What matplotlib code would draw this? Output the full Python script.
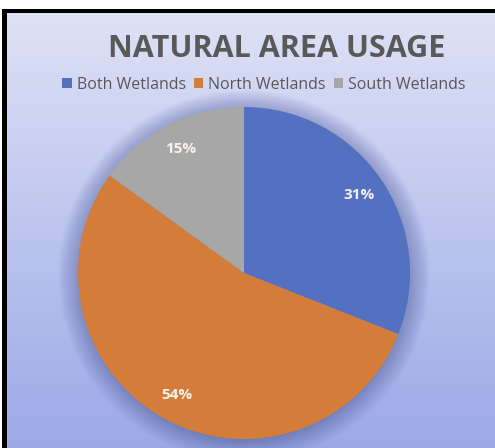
import numpy as np
import matplotlib.pyplot as plt
from matplotlib.patches import Rectangle, Circle, Patch

# data
labels = ['Both Wetlands', 'North Wetlands', 'South Wetlands']
shares = [31, 54, 15]
colors = ['#5470C0', '#D47C3A', '#A7A7A7']
title = 'NATURAL AREA USAGE'

W, H = 495, 448
fig = plt.figure(figsize=(W / 100, H / 100), dpi=100)
fig.patch.set_facecolor('white')

# background gradient panel
bg = fig.add_axes([2 / W, 0, (W - 2) / W, (H - 9) / H])
bg.set_axis_off()
top = np.array([223, 226, 246]) / 255
bot = np.array([155, 169, 231]) / 255
t = np.linspace(0, 1, 256)[:, None]
grad = top[None, :] * (1 - t) + bot[None, :] * t
bg.imshow(np.repeat(grad[:, None, :], 2, axis=1), aspect='auto', extent=[0, 1, 0, 1],
          interpolation='bilinear')
bg.set_xlim(0, 1)
bg.set_ylim(0, 1)

# black frame, top and left only
fig.patches.append(Rectangle((2 / W, 0), 5 / W, (H - 9) / H, transform=fig.transFigure,
                             facecolor='black', edgecolor='none', zorder=5))
fig.patches.append(Rectangle((2 / W, (H - 13) / H), (W - 2) / W, 4 / H, transform=fig.transFigure,
                             facecolor='black', edgecolor='none', zorder=5))

# pie
cx, cy, r = 244, 273, 166
ax = fig.add_axes([(cx - r) / W, (H - cy - r) / H, 2 * r / W, 2 * r / H])
ax.set_xlim(-1, 1)
ax.set_ylim(-1, 1)
ax.set_aspect('equal')
ax.set_axis_off()

# soft shadow behind the pie
for k in range(24):
    ax.add_patch(Circle((0, -0.015), 0.98 + 0.006 * k, facecolor='#22307a', alpha=0.016,
                        edgecolor='none', zorder=0, clip_on=False))

wedges, texts, autotexts = ax.pie(shares, colors=colors, startangle=90, counterclock=False,
                                  autopct='%d%%', pctdistance=0.84, radius=1,
                                  wedgeprops=dict(linewidth=0), frame=False)
for a in autotexts:
    a.set_color('#f6f3ef')
    a.set_fontweight('bold')
    a.set_fontsize(11)
    a.set_family('Open Sans')
ax.set_xlim(-1, 1)
ax.set_ylim(-1, 1)

fig.text(277 / W, 1 - 49 / H, title, ha='center', va='center', fontsize=22,
         fontweight='bold', color='#595959', family='Open Sans')

handles = [Patch(facecolor=c, edgecolor='none') for c in colors]
fig.legend(handles, labels, loc='center', bbox_to_anchor=(264 / W, 1 - 85 / H), ncol=3,
           frameon=False, handlelength=0.6, handleheight=0.6, handletextpad=0.3,
           columnspacing=0.5, prop={'family': 'Open Sans', 'size': 11.5},
           labelcolor='#595959')

fig.savefig('out.png', dpi=100)
